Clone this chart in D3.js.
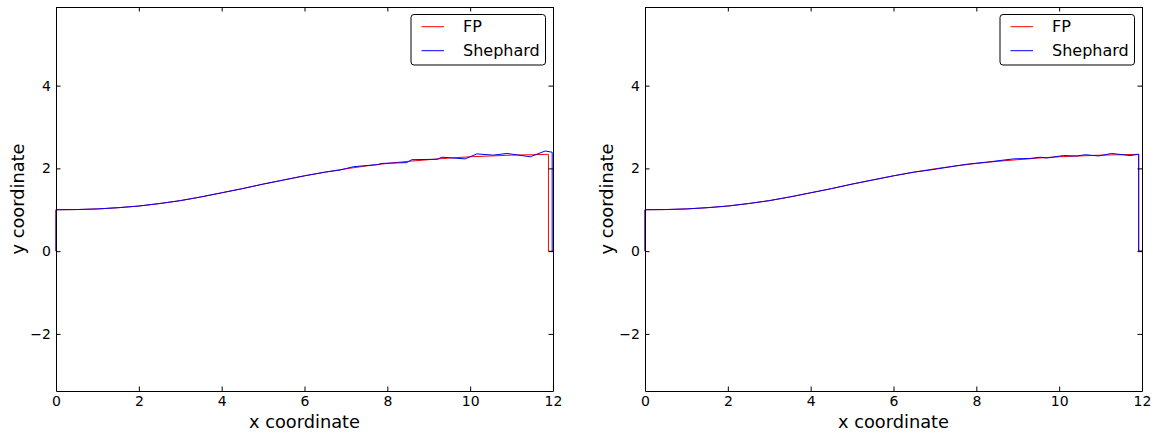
<!DOCTYPE html>
<html>
<head>
<meta charset="utf-8">
<script src="https://cdn.jsdelivr.net/npm/d3@7"></script>
<style>
    body { margin: 0; background: #fff; }
    svg { display: block; }
    text { font-family: "DejaVu Sans", sans-serif; fill: #000; }
    .tick text { font-size: 14px; }
</style>
</head>
<body>
<div id="chart"></div>
<script>
const xTicks = [0, 2, 4, 6, 8, 10, 12];
const yTicks = [-2, 0, 2, 4];
const seriesNames = ['FP', 'Shephard'];

// smooth part shared by every profile
const baseProfile = [[0, 0], [0, 1], [0.5, 1.005], [1, 1.02], [1.5, 1.05], [2, 1.09], [2.5, 1.15],
    [3, 1.22], [3.5, 1.31], [4, 1.41], [4.5, 1.51], [5, 1.62], [5.5, 1.72], [6, 1.82], [6.5, 1.91]];

const fpTailLeft = [[7, 1.99], [7.5, 2.06], [8, 2.12], [8.5, 2.17], [9, 2.21], [9.5, 2.25], [10, 2.28],
    [10.5, 2.30], [11, 2.32], [11.5, 2.33], [11.89, 2.34], [11.89, 0], [12, 0]];
const shepTailLeft = [[6.86, 1.96], [7.18, 2.04], [7.75, 2.09], [7.87, 2.12], [8.47, 2.14], [8.59, 2.21],
    [9.2, 2.22], [9.32, 2.27], [9.88, 2.23], [10.16, 2.35], [10.56, 2.32], [10.89, 2.36], [11.45, 2.28],
    [11.81, 2.42], [11.98, 2.39], [11.98, 0], [12, 0]];

const fpTailRight = [[7, 1.99], [7.5, 2.06], [8, 2.12], [8.5, 2.17], [9, 2.21], [9.5, 2.25], [10, 2.28],
    [10.5, 2.30], [11, 2.32], [11.5, 2.33], [11.92, 2.34], [11.92, 0], [12, 0]];
const shepTailRight = [[6.88, 1.96], [7.77, 2.10], [8.33, 2.16], [8.9, 2.23], [9.3, 2.24], [9.54, 2.27],
    [9.7, 2.25], [10.1, 2.31], [10.43, 2.30], [10.63, 2.33], [10.95, 2.30], [11.27, 2.36], [11.71, 2.31],
    [11.92, 2.34], [11.92, 0], [12, 0]];

const width = 1155, height = 437;
const svg = d3.select('#chart').append('svg')
    .attr('width', width)
    .attr('height', height);

function drawPanel(left, fp, shep) {
    const x = d3.scaleLinear().domain([0, 12]).range([left, left + 497]);
    const y = d3.scaleLinear().domain([-3.38, 5.9]).range([391, 7]);
    const g = svg.append('g');

    const line = d3.line().x(d => x(d[0])).y(d => y(d[1]));
    g.append('path').attr('d', line(fp))
        .attr('fill', 'none').attr('stroke', '#ff0000').attr('stroke-width', 1);
    g.append('path').attr('d', line(shep))
        .attr('fill', 'none').attr('stroke', '#0000ff').attr('stroke-width', 1);

    /* axes, ticks point inward */
    const tick = -4.5;
    const bottom = g.append('g').attr('transform', `translate(0,391)`)
        .call(d3.axisBottom(x).tickValues(xTicks).tickSize(tick).tickSizeOuter(0).tickPadding(5));
    const top = g.append('g').attr('transform', `translate(0,7)`)
        .call(d3.axisTop(x).tickValues(xTicks).tickSize(tick).tickSizeOuter(0).tickFormat(''));
    const leftAx = g.append('g').attr('transform', `translate(${left},0)`)
        .call(d3.axisLeft(y).tickValues(yTicks).tickSize(tick).tickSizeOuter(0).tickPadding(5)
            .tickFormat(d => d < 0 ? '\u2212' + Math.abs(d) : d));
    const rightAx = g.append('g').attr('transform', `translate(${left + 497},0)`)
        .call(d3.axisRight(y).tickValues(yTicks).tickSize(tick).tickSizeOuter(0).tickFormat(''));
    [bottom, top, leftAx, rightAx].forEach(a => {
        a.attr('font-size', null).attr('font-family', null);
        a.selectAll('.domain').attr('stroke', '#000').attr('stroke-width', 1);
        a.selectAll('.tick line').attr('stroke', '#000');
    });

    g.append('text')
        .attr('x', left + 248.5).attr('y', 428)
        .attr('text-anchor', 'middle')
        .style('font-size', '17.8px')
        .text('x coordinate');
    g.append('text')
        .attr('transform', `translate(${left - 38},199) rotate(-90)`)
        .attr('text-anchor', 'middle')
        .attr('dy', '0.35em')
        .style('font-size', '17.8px')
        .text('y coordinate');

    /* legend */
    const lg = g.append('g').attr('transform', `translate(${left + 355},14.5)`);
    lg.append('rect')
        .attr('width', 134.5).attr('height', 50.5)
        .attr('rx', 3)
        .attr('fill', '#fff').attr('stroke', '#000').attr('stroke-width', 1);
    const colors = ['#ff0000', '#0000ff'];
    seriesNames.forEach((name, i) => {
        const yy = 12.2 + i * 24;
        lg.append('line')
            .attr('x1', 10.5).attr('x2', 33).attr('y1', yy).attr('y2', yy)
            .attr('stroke', colors[i]).attr('stroke-width', 1);
        lg.append('text')
            .attr('x', 52).attr('y', yy).attr('dy', '0.35em')
            .style('font-size', '16px')
            .text(name);
    });
}

drawPanel(56, baseProfile.concat(fpTailLeft), baseProfile.concat(shepTailLeft));
drawPanel(645, baseProfile.concat(fpTailRight), baseProfile.concat(shepTailRight));
</script>
</body>
</html>
